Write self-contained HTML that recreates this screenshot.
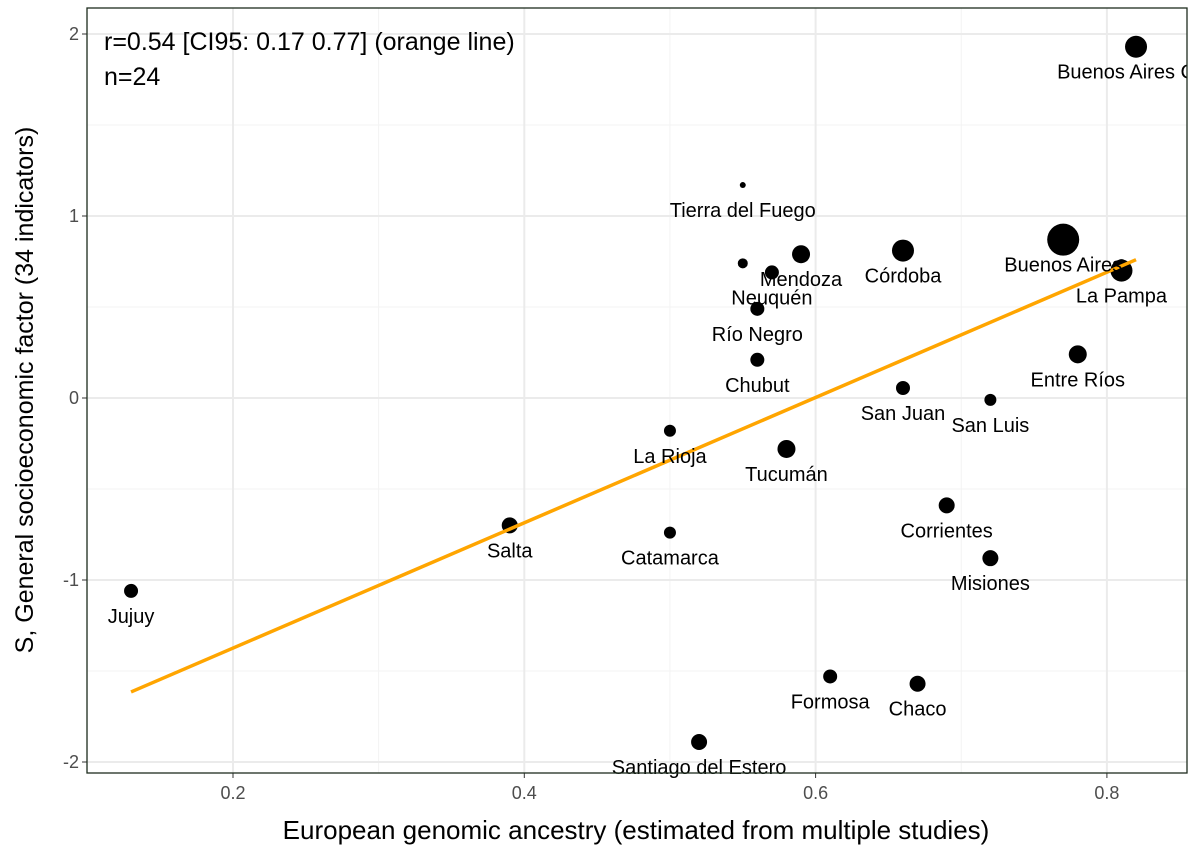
<!DOCTYPE html>
<html><head><meta charset="utf-8"><style>
body{margin:0;background:#fff;}
svg{display:block;font-family:"Liberation Sans",Arial,sans-serif;}
</style></head><body>
<svg id="c" width="1200" height="857"></svg>
<script>
const names=["Buenos Aires City","Tierra del Fuego","Buenos Aires","La Pampa","","Mendoza","Neuquén","","Córdoba","Río Negro","Chubut","Entre Ríos","San Juan","San Luis","La Rioja","Tucumán","Salta","Catamarca","Corrientes","Misiones","Jujuy","Formosa","Chaco","Santiago del Estero"];
const ancestry=[0.82,0.55,0.77,0.81,0.81,0.59,0.57,0.55,0.66,0.56,0.56,0.78,0.66,0.72,0.50,0.58,0.39,0.50,0.69,0.72,0.13,0.61,0.67,0.52];
const sFactor=[1.93,1.17,0.87,0.70,0.73,0.79,0.69,0.74,0.81,0.49,0.21,0.24,0.055,-0.01,-0.18,-0.28,-0.70,-0.74,-0.59,-0.88,-1.06,-1.53,-1.57,-1.89];
const weight=[11,3,16,11,6,9,7,5,11,7,7,9,7,6,6,9,8,6,8,8,7,7,8,8];
const xTicks=[0.2,0.4,0.6,0.8];
const yTicks=[-2,-1,0,1,2];
const fitLine=[[0.13,-1.615],[0.82,0.76]];

const L=87,R=1187,T=8,B=773;
const X=v=>233+(v-0.2)*1456.5;
const Y=v=>398-v*182;
const NS="http://www.w3.org/2000/svg";
const svg=document.getElementById('c');
function mk(t,a,p){const e=document.createElementNS(NS,t);for(const k in a)e.setAttribute(k,a[k]);(p||svg).appendChild(e);return e;}

const panel=mk('rect',{x:L,y:T,width:R-L,height:B-T,fill:'#fff'});


const grid=mk('g',{});


[0.1,0.3,0.5,0.7].forEach(v=>{const x=X(v);if(x>L)mk('line',{x1:x,x2:x,y1:T,y2:B,stroke:'#f3f3f3','stroke-width':1},grid);});
[-1.5,-0.5,0.5,1.5].forEach(v=>mk('line',{x1:L,x2:R,y1:Y(v),y2:Y(v),stroke:'#f3f3f3','stroke-width':1},grid));
xTicks.forEach(v=>{
  mk('line',{x1:X(v),x2:X(v),y1:T,y2:B,stroke:'#ebebeb','stroke-width':2},grid);
  mk('line',{x1:X(v),x2:X(v),y1:B,y2:B+5,stroke:'#333'});
  const t=mk('text',{x:X(v),y:B+26,'text-anchor':'middle','font-size':18,fill:'#4d4d4d'});t.textContent=v.toFixed(1);
  
  
});
yTicks.forEach(v=>{
  mk('line',{x1:L,x2:R,y1:Y(v),y2:Y(v),stroke:'#ebebeb','stroke-width':2},grid);
  mk('line',{x1:L-5,x2:L,y1:Y(v),y2:Y(v),stroke:'#333'});
  const t=mk('text',{x:L-8,y:Y(v)+6,'text-anchor':'end','font-size':18,fill:'#4d4d4d'});t.textContent=v;
  
  
});
const pts=mk('g',{});


ancestry.forEach((a,i)=>{
  const c=mk('circle',{cx:X(a),cy:Y(sFactor[i]),r:weight[i],fill:'#000'},pts);
  
  
});
const ln=mk('line',{x1:X(fitLine[0][0]),y1:Y(fitLine[0][1]),x2:X(fitLine[1][0]),y2:Y(fitLine[1][1]),stroke:'#ffa500','stroke-width':3.5});


const lab=mk('g',{});


names.forEach((n,i)=>{if(!n)return;
  const t=mk('text',{x:X(ancestry[i]),y:Y(sFactor[i])+32,'text-anchor':'middle','font-size':20,fill:'#000'},lab);t.textContent=n;
  
  
});
const clip=mk('rect',{x:R,y:0,width:13,height:857,fill:'#fff'});
const border=mk('rect',{x:L,y:T,width:R-L,height:B-T,fill:'none',stroke:'#1e2d1e','stroke-width':1.3});


const a1=mk('text',{x:104,y:50,'font-size':25,fill:'#000'});a1.textContent='r=0.54 [CI95: 0.17 0.77] (orange line)';


const a2=mk('text',{x:104,y:85,'font-size':25,fill:'#000'});a2.textContent='n=24';


const xt=mk('text',{x:636,y:839,'text-anchor':'middle','font-size':26,fill:'#000'});xt.textContent='European genomic ancestry (estimated from multiple studies)';


const yt=mk('text',{x:0,y:0,'text-anchor':'middle','font-size':25,fill:'#000',transform:'translate(33,390) rotate(-90)'});yt.textContent='S, General socioeconomic factor (34 indicators)';


</script>
</body></html>
